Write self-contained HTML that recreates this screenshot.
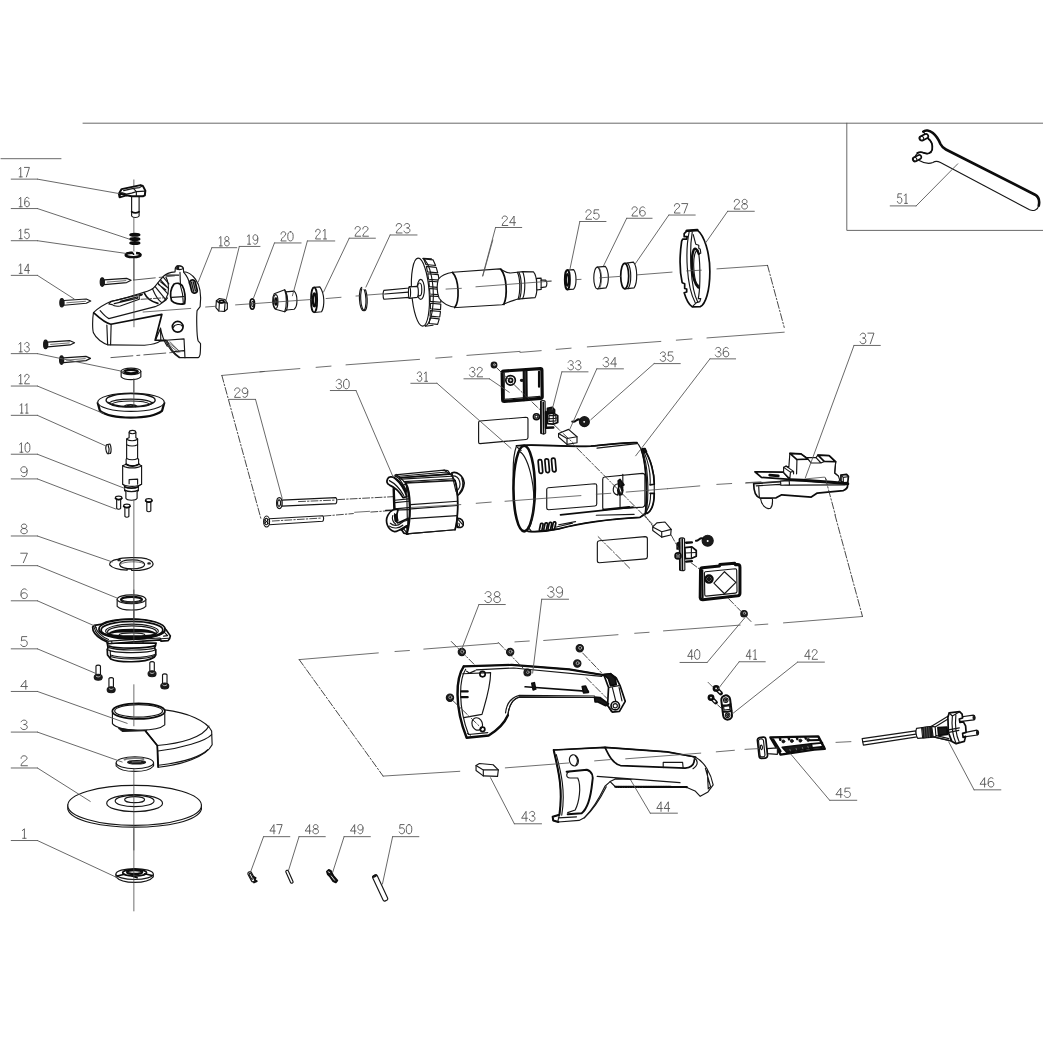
<!DOCTYPE html>
<html><head><meta charset="utf-8"><title>Angle grinder exploded view</title>
<style>
html,body{margin:0;padding:0;background:#fff;font-family:"Liberation Sans",sans-serif;}
svg{display:block}
svg *{vector-effect:non-scaling-stroke;fill:none;stroke-linecap:round;stroke-linejoin:round}
.o{stroke:#161616;stroke-width:1.15}
.b{stroke:#0c0c0c;stroke-width:1.7}
.t{stroke:#4a4a4a;stroke-width:.8}
.l{stroke:#585858;stroke-width:.9}
.d{stroke:#525252;stroke-width:.9}
.c{stroke:#3c3c3c;stroke-width:.85;stroke-dasharray:22 4 3 4}
.c2{stroke:#333;stroke-width:.9;stroke-dasharray:7 2 1.5 2}
.w{fill:#fff !important}
.k{fill:#1a1a1a !important}
.g{fill:#777 !important}
.g2{fill:#bbb !important}
</style></head><body>
<svg width="1043" height="1043" viewBox="0 0 1043 1043">
<rect class="w" x="0" y="0" width="1043" height="1043" stroke="none"/>
<g transform="translate(0,0) scale(1.000000)">
<path class="l" d="M83,123.2 L1043,123.2 M1,158.7 L61,158.7 M846.8,123.2 L846.8,230.4 L1043,230.4"/>

</g>
<g transform="translate(80,255) scale(0.134228)">
<!-- gearbox housing 18 -->
<path class="o w" d="M100,430 C92,480 92,555 100,580 C120,625 170,658 210,670 L480,672 C540,668 580,655 600,640 L640,640 C655,690 700,740 740,765 L880,765 C895,758 898,740 898,660 L880,640 C868,600 868,450 872,415 L895,385 C905,300 890,220 860,180 C830,140 800,125 772,125 L770,100 C765,75 718,72 710,98 L708,126 C670,130 640,140 620,160 C590,190 565,232 540,252 C500,280 430,288 400,300 C340,320 270,338 232,345 C180,368 130,400 100,430 Z"/>
<path class="b" d="M103,432 C150,475 200,512 230,516 L610,442 L560,635 L640,635"/>
<path class="o" d="M150,415 C180,450 200,468 215,474 L560,385 C600,372 640,340 655,290 C662,250 660,200 640,165"/>
<path class="o" d="M200,522 L206,668 M232,517 L228,668"/>
<path class="t" d="M470,425 L825,398"/>
<path class="o" d="M600,545 L562,635 M600,545 L602,640 M600,545 C610,600 625,640 650,680"/>
<path class="o" d="M640,635 L775,625 L782,765 M650,642 C670,692 700,732 742,762 M700,720 L775,712"/>
<path class="t" d="M640,650 L720,715 M655,648 L735,712 M670,646 L745,722 M650,670 L700,720"/>
<!-- boss on top -->
<path class="o" d="M712,100 C722,112 758,112 770,100 M722,88 C730,80 752,80 760,88"/>
<path class="o k" d="M722,80 L722,100 L735,104 L735,82 Z"/>
<!-- window -->
<path class="b w" d="M700,217 C720,205 748,210 762,228 C782,262 788,322 780,362 C742,372 700,360 682,340 C670,300 675,250 700,217 Z"/>
<path class="o" d="M682,316 L772,310 M745,215 C760,260 770,320 770,362"/>
<!-- slot right -->
<g transform="rotate(-14 845 235)"><rect class="b g2" x="824" y="185" width="42" height="100" rx="20"/><path class="o" d="M838,200 L838,270 M852,200 L852,270"/></g>
<path class="o" d="M772,128 C800,160 812,190 815,215 M745,130 L748,215"/>
<!-- circle -->
<circle class="b w" cx="728" cy="535" r="40"/>
<path class="o" d="M695,540 C705,515 750,510 762,530"/>
<!-- top slot -->
<path class="o" d="M215,365 C225,348 245,340 265,338 L440,296 L465,292 L460,300 L440,305 L442,330 L300,380 C270,385 250,380 240,370 Z"/>
<path class="o" d="M255,362 L430,322 L428,312 L300,345"/>
<path class="b" d="M480,285 C500,330 540,350 580,360"/>
<!-- ribs hatch -->
<path class="o" d="M540,252 C560,300 590,345 610,355 M560,235 L640,335 M580,210 L655,290 M600,185 L660,250 M620,165 L662,215 M585,220 L640,260 M600,200 L650,240"/>
<path class="o" d="M640,150 L735,150 M610,355 C625,350 640,340 652,320"/>
<path class="c2" d="M455,330 L640,318"/>
<!-- axis over housing -->
<path class="t" d="M402,0 L402,535"/>

</g>
<g transform="translate(0,140) scale(0.249281)">
<!-- axis -->
<path class="t" d="M537,160 L537,190 M537,310 L537,375 M537,415 L537,450 M537,470 L537,560 M537,960 L537,1010"/>
<!-- labels -->








<!-- 17 knob -->
<path class="o w" d="M528,222 L528,305 C533,313 553,313 558,305 L558,222 Z"/>
<path class="b" d="M528,288 C536,293 550,293 558,288"/>
<path class="b w" d="M477,216 L488,197 L564,181 L573,184 L583,203 L581,222 L573,226 L528,226 L507,222 L480,230 Z" style="stroke-width:2"/>
<path class="o" d="M496,203 L535,194 L560,191 L569,186 M535,194 L547,207 L581,205 M547,207 L547,226 M488,211 L507,217 L528,213 L547,207"/>
<path class="b" d="M480,228 L482,214 L507,222"/>
<!-- 16 spring -->
<g class="b" style="stroke-width:2.3"><ellipse cx="541" cy="380" rx="18" ry="3.500"/><ellipse cx="541" cy="397" rx="18" ry="3.500"/><ellipse cx="541" cy="413" rx="18" ry="3.500"/></g>
<!-- 15 clip -->
<ellipse class="b w" cx="534" cy="461" rx="30" ry="9" style="stroke-width:2.4"/>
<path class="w" stroke="none" d="M530,446 L548,446 L545,460 L535,460 Z"/>
<path class="b" d="M505,457 C515,452 525,451 531,452 L536,458 M549,453 C556,454 562,456 564,459"/>
<!-- screws 14 -->
<g id="scr">
<path class="o w" d="M418,561 L508,555 L526,563 L508,572 L418,580 Z"/>
<path class="t" d="M430,570 L505,564"/>
<ellipse class="o k" cx="410" cy="570" rx="8" ry="17"/>
</g>
<use href="#scr" x="-162" y="83"/>
<use href="#scr" x="-227" y="250"/>
<use href="#scr" x="-163" y="313"/>
<!-- 13 bearing -->
<path class="o w" d="M486,928 L486,950 C500,965 550,965 565,950 L565,928 Z"/>
<ellipse class="o w" cx="525.500" cy="928" rx="39.500" ry="13"/>
<ellipse class="b" cx="525.500" cy="929" rx="27" ry="7" style="stroke-width:2.4"/>
<!-- nut 19 -->
<path class="o w" d="M868,645 L880,636 L903,640 L912,655 L912,678 L900,688 L878,686 L866,672 Z"/>
<path class="o" d="M868,645 L880,655 L903,652 L912,655 M880,655 L878,686 M903,652 L900,688"/>
<ellipse class="b" cx="889" cy="648" rx="10" ry="5"/>
<!-- washer 20 -->
<ellipse class="b" cx="1012" cy="658" rx="9" ry="21"/>
<ellipse class="o" cx="1014" cy="658" rx="4" ry="11"/>
<!-- centerlines -->
<path class="c" d="M535,562 L700,545 M445,873 L720,850"/>
<path class="t" d="M825,670 L865,667 M0,0"/>

</g>
<g transform="translate(260,140) scale(0.249281)">








<!-- 21 cone bushing -->
<path class="o w" d="M57,617 L99,601 L104,609 L137,606 C152,621 152,667 137,679 L107,682 L99,689 L62,679 C48,665 48,632 57,617 Z"/>
<path class="o" d="M104,609 C113,630 113,665 107,682 M99,601 C108,625 108,668 99,689"/>
<ellipse class="o" cx="63" cy="648" rx="9" ry="28"/>
<ellipse class="b" cx="64" cy="648" rx="4" ry="14"/>
<!-- 22 bearing -->
<path class="o w" d="M217,591 L240,589 C260,616 260,667 247,689 L219,692 Z"/>
<ellipse class="b w" cx="217" cy="641.500" rx="12.500" ry="50"/>
<ellipse class="b" cx="218" cy="641.500" rx="6" ry="26" style="stroke-width:2.2"/>
<!-- 23 circlip -->
<ellipse class="o" cx="412" cy="638" rx="13" ry="47" transform="rotate(-3 412 638)"/>
<ellipse class="o" cx="417" cy="638" rx="13" ry="47" transform="rotate(-3 417 638)"/>
<rect class="w" x="410" y="585" width="22" height="14" stroke="none"/>
<!-- centerline -->
<path class="t" d="M-98,661.500 L204,640 M265,636 L325,631 M385,626 L400,625 M430,622 L495,617"/>
<!-- long dashed frame line (upper plane bottom edge) -->
<path class="t" d="M0,930 L160,917 M225,912 L285,907 M345,902 L640,880 M705,875 L770,870 M830,864 L1043,848"/>

</g>
<g transform="translate(400,240) scale(0.153404)">
<!-- shaft -->
<path class="o w" d="M-105,328 L60,313 L60,306 L110,302 L110,375 L60,380 L60,374 L-105,386 C-112,375 -112,340 -105,328 Z"/>
<path class="o" d="M60,313 L60,374 M-100,352 L55,340"/>
<!-- fan blades -->
<path class="w" stroke="none" d="M160,120 L212,120 C235,160 255,260 262,360 C266,440 258,510 240,555 L190,562 Z"/>
<path class="o" d="M150,120 L205,122 M165,562 L215,556"/>
<path class="o w" d="M155,124 L216,130 L232,166 L169,160 Z M172,172 L236,178 L246,214 L179,208 Z M181,220 L249,226 L255,262 L186,256 Z M188,268 L257,274 L261,310 L191,304 Z M192,316 L263,322 L265,358 L195,352 Z M196,364 L266,370 L266,406 L197,400 Z M198,412 L266,418 L264,454 L198,448 Z M198,460 L264,466 L259,502 L196,496 Z M195,508 L256,514 L245,550 L190,544 Z"/>
<!-- fan disc -->
<ellipse class="o w" cx="133" cy="340" rx="57" ry="222" transform="rotate(-4 133 340)"/>
<path class="o" d="M150,121 C200,150 225,300 215,420 C208,500 190,550 165,560"/>
<ellipse class="o" cx="135" cy="322" rx="24" ry="65"/>
<ellipse class="o" cx="128" cy="322" rx="14" ry="42"/>
<path class="o w" d="M60,313 L60,306 L112,302 C122,310 122,365 112,374 L60,380 Z"/>
<ellipse class="o w" cx="62" cy="343" rx="7" ry="36"/>
<!-- body -->
<path class="o w" d="M250,255 C270,230 310,215 345,210 L650,188 C670,195 690,215 720,215 L765,210 L800,206 L870,208 C895,235 900,340 880,376 L800,382 L770,385 C740,395 715,400 690,412 L665,422 L370,440 C320,435 275,410 255,380 C240,340 240,290 250,255 Z"/>
<path class="b" d="M342,211 C388,260 388,400 357,440"/>
<path class="b" d="M657,190 C697,240 702,360 677,420"/>
<path class="o" d="M765,210 C785,250 785,340 770,385 M800,206 C818,250 818,340 800,382 M775,210 C795,250 795,340 780,384"/>
<!-- end shaft -->
<path class="o w" d="M890,250 L920,249 L920,262 L950,262 C960,270 960,298 950,306 L920,310 L920,322 L892,326 Z"/>
<path class="o" d="M920,262 L920,310"/>
<path class="t" d="M300,320 L400,315 M495,305 L985,268 M605,0 L540,235"/>

</g>
<g transform="translate(520,140) scale(0.249281)">








<!-- 25 -->
<path class="o w" d="M190,522 L215,520 C228,535 228,585 215,598 L190,600 Z"/>
<ellipse class="b w" cx="190" cy="561" rx="10" ry="39" style="stroke-width:2"/>
<ellipse class="b" cx="190" cy="561" rx="5" ry="24"/>
<!-- 26 -->
<path class="o w" d="M310,510 L342,507 C358,525 358,575 345,593 L312,597 Z"/>
<ellipse class="o w" cx="310" cy="553.500" rx="14" ry="43.500"/>
<path class="t" d="M318,512 C330,530 330,575 320,595"/>
<!-- 27 -->
<path class="o w" d="M420,495 L455,490 C472,510 472,570 458,593 L422,597 Z"/>
<ellipse class="b w" cx="420" cy="546" rx="16" ry="51"/>
<path class="o" d="M432,494 C448,515 448,575 434,596"/>
<!-- centerline -->
<path class="t" d="M100,567 L125,566 M225,560 L245,559 M320,553 L403,547 M470,541 L610,530 M790,517 L993,503"/>
<path class="c2" d="M993,503 L1060,752"/>
<path class="t" d="M0,852 L85,845 M145,840 L205,835 M270,830 L565,808 M627,803 L690,798 M750,794 L1060,771"/>

</g>
<g transform="translate(660,215) scale(0.100719)">
<path class="b w" d="M265,160 L370,150 C440,200 495,380 495,560 C495,760 450,890 400,910 L320,912 C285,890 260,840 240,772 L265,765 L265,735 L245,730 L245,682 L220,672 C195,560 195,400 215,260 L225,240 L265,240 L270,215 L240,215 L240,185 Z"/>
<path d="M265,156 L370,149" stroke="#0c0c0c" stroke-width="2.6"/>
<path class="o" d="M290,165 C250,350 260,700 350,872"/>
<path class="o" d="M320,170 C290,350 300,720 375,865"/>
<path class="o" d="M330,195 L355,290 L385,300 L385,330 L400,340 L405,380 L385,385 C400,500 400,700 385,800 L380,830 L405,830 L395,860 L360,872 L320,910"/>
<path class="b" d="M385,385 C372,345 350,320 335,345 C305,420 305,640 380,720" style="stroke-width:2.4"/>
<path class="o" d="M380,350 C350,340 330,420 335,520 C340,620 360,690 385,700"/>
<path class="t" d="M265,555 L410,548"/>

</g>
<g transform="translate(900,120) scale(0.137105)">
<path class="o w" d="M170,85 C185,70 215,75 240,95 C270,120 285,150 295,175 C305,195 315,205 335,215 L985,545 C1010,560 1020,590 1012,625 C1005,655 975,668 945,655 L295,310 C275,300 255,300 240,310 C215,320 175,315 140,295 L112,262 C125,238 150,232 175,240 C200,250 228,245 235,215 C240,180 225,150 205,135 Z"/>
<path d="M170,85 C185,70 215,75 240,95 C270,120 285,150 295,175 C305,195 315,205 335,215 L985,545 C1010,560 1020,590 1012,625" stroke="#0c0c0c" stroke-width="2.6"/>
<path class="b" d="M205,135 C225,150 240,180 235,215 C228,245 200,250 175,240 C160,232 140,232 125,240"/>
<g transform="rotate(-27 172 127)"><rect class="b w" x="140" y="110" width="68" height="34" rx="17"/><ellipse class="o" cx="157" cy="127" rx="14" ry="15"/></g>
<g transform="rotate(-27 122 280)"><rect class="b w" x="92" y="264" width="66" height="32" rx="16"/><ellipse class="o" cx="108" cy="280" rx="13" ry="14"/></g>

</g>
<g transform="translate(780,100) scale(0.252157)">


</g>
<g transform="translate(0,360) scale(0.249281)">







<!-- 12 gear dish -->
<path class="b w" d="M392,172 L401,204 C447,240 603,240 650,204 L659,172 Z" style="stroke-width:2.2"/>
<ellipse class="o w" cx="525.500" cy="169.500" rx="133.500" ry="36.500"/>
<ellipse class="o" cx="524" cy="161" rx="98.500" ry="26" style="stroke-width:1.4"/>
<path class="o" d="M438,172 C460,152 590,152 610,172 M446,178 C470,160 580,160 602,178"/>
<path class="o" d="M436,170 C450,196 600,196 612,170"/>
<path class="o" d="M498,186 C505,176 543,176 550,186 M505,187 C512,181 538,181 544,187"/>
<!-- 11 key -->
<path class="o w" d="M427,340 L441,337 C447,348 447,366 443,375 L431,376 C424,364 423,350 427,340 Z"/><path class="o" d="M433,339 C438,350 438,366 436,376"/>
<!-- 10 spindle -->
<path class="o w" d="M518,290 C520,280 543,280 545,290 L545,312 L552,316 L552,395 L556,398 L556,418 L568,424 L568,498 L555,505 L555,525 L550,528 L550,555 C545,565 510,565 505,555 L505,528 L500,525 L500,505 L492,498 L492,424 L506,418 L506,398 L508,395 L508,316 L518,312 Z"/>
<path class="o" d="M508,318 C520,326 540,326 552,318 M508,340 C520,346 540,346 552,340 M508,395 C520,402 540,402 552,395 M506,418 C520,426 540,426 556,418 M492,424 C510,436 550,436 568,424 M492,498 C510,510 550,510 568,498 M500,522 C515,530 540,530 555,522 M518,292 C525,297 538,297 545,292"/>
<path class="b" d="M506,418 C520,428 545,428 558,418 M500,508 C515,516 540,516 555,508"/>
<path class="o" d="M518,480 L552,478 L552,498 M518,480 L518,496"/>
<!-- 9 screws -->
<g id="s9"><path class="o w" d="M468,558 L468,595 C472,600 480,600 484,595 L484,558 Z"/><ellipse class="o w" cx="476" cy="553" rx="13" ry="7"/><path class="b" d="M463,555 C468,562 484,562 489,555"/></g>
<use href="#s9" x="33" y="32"/><use href="#s9" x="121" y="10"/>
<!-- 8 plate -->
<path class="o w" d="M440,822 C438,812 450,803 470,800 C490,792 560,790 590,798 C610,804 618,815 612,825 C600,840 560,846 528,844 L526,838 L510,838 L510,843 C480,842 450,835 440,822 Z"/>
<path class="o" d="M480,822 C480,808 505,802 532,802 C560,802 580,810 580,820 C580,830 560,838 530,838 C505,838 482,832 480,822 Z"/>
<path class="t" d="M486,818 C495,808 560,806 575,816"/>
<ellipse class="o" cx="478" cy="803" rx="5" ry="2.500"/><ellipse class="o" cx="598" cy="816" rx="5" ry="2.500"/>
<!-- 7 bearing -->
<path class="o w" d="M470,960 L470,988 C490,1008 565,1008 585,988 L585,960 Z"/>
<ellipse class="o w" cx="527.500" cy="960" rx="57.500" ry="18"/>
<ellipse class="b" cx="527.500" cy="961" rx="42" ry="11" style="stroke-width:2.2"/>
<path class="t" d="M492,966 C510,975 550,975 565,966"/>
<!-- axis -->
<path class="t" d="M537,75 L537,186 M537,562 L537,1043"/>
<!-- frame -->
<path class="t" d="M890,62 L1060,46"/>
<path class="c2" d="M890,62 L1048,641"/>

</g>
<g transform="translate(85,610) scale(0.095877)">
<!-- lower body -->
<path class="b w" d="M232,345 L240,392 L232,412 L235,470 L268,510 C350,550 620,555 722,492 L738,470 L738,415 L725,398 L742,345 Z"/>
<path class="o" d="M240,390 C330,425 640,425 728,396 M232,412 C300,455 660,455 738,415 M262,420 L268,508 M268,470 C350,505 640,505 738,462 M268,485 C350,520 640,520 730,478"/>
<path class="b" d="M250,375 C330,405 640,405 735,372"/>
<!-- flange plate -->
<path class="b w" d="M80,178 L95,160 L165,150 C300,80 700,70 830,190 L852,215 L890,270 L882,300 L865,320 L795,325 L785,312 L240,352 L225,330 C150,300 100,250 85,215 Z"/>
<path class="o" d="M95,180 C105,240 170,300 240,325 L780,292 L790,300 L875,295 M110,175 C120,225 180,285 245,308 M240,325 L240,352 M605,325 L605,340 M280,330 L280,350 M790,300 L795,325"/>
<path class="o" d="M830,235 L862,268 L820,272 M100,162 L118,185"/>
<!-- rings -->
<ellipse class="b w" cx="490" cy="200" rx="345" ry="105"/>
<ellipse class="b" cx="490" cy="208" rx="322" ry="90"/>
<ellipse class="o" cx="490" cy="220" rx="275" ry="72"/>
<ellipse class="o" cx="490" cy="228" rx="255" ry="62"/>
<path d="M255,245 C300,190 680,190 730,245 C690,215 300,215 255,245 Z" class="b k"/>
<path d="M250,250 C300,300 680,300 735,250 C690,280 300,282 250,250 Z" class="b k"/>
<ellipse class="o" cx="490" cy="262" rx="135" ry="24"/>
<path class="b" d="M150,215 C200,300 750,320 830,225"/>
<path class="t" d="M510,0 L510,345"/>

</g>
<g transform="translate(0,590) scale(0.249281)">





<!-- 5 bolts -->
<g id="b5"><path class="o w" d="M385,305 C388,300 400,300 403,305 L403,345 L385,345 Z"/><ellipse class="o k" cx="394" cy="350" rx="16" ry="12"/><path d="M386,346 C390,350 398,350 402,346" stroke="#ddd" stroke-width=".8"/></g>
<use href="#b5" x="52" y="50"/><use href="#b5" x="216" y="-14"/><use href="#b5" x="267" y="35"/>
<!-- 4 guard -->
<path class="o w" d="M661,481 C751,491 831,526 849,566 L851,621 C826,671 726,701 636,711 L631,624 L584,566 Z"/>
<path class="o" d="M631,624 C726,616 816,591 838,546 M634,646 C726,636 826,606 849,580 M636,703 C726,693 800,672 835,640"/>
<path class="b" d="M584,566 L631,624 L634,711"/>
<path class="o k" d="M476,556 L491,567 L582,564 L575,558 Z"/>
<path class="o w" d="M451,490 L451,536 C476,568 626,572 661,541 L661,489 Z"/>
<ellipse class="b w" cx="556" cy="486" rx="105.500" ry="31"/>
<ellipse class="o" cx="556" cy="485" rx="96" ry="25"/>
<!-- 3 flange -->
<path class="o w" d="M466,694 L466,706 C490,735 592,735 616,706 L616,694 Z"/>
<ellipse class="o w" cx="541" cy="693" rx="75" ry="24"/>
<path d="M500,680 C515,672 560,672 575,678" stroke="#777" stroke-width="2"/>
<ellipse class="o k" cx="548" cy="691" rx="36" ry="7"/>
<path d="M530,690 L565,689" stroke="#999" stroke-width=".8"/>
<!-- 2 disc -->
<path class="o w" d="M272,862 L272,880 C300,975 780,975 808,880 L808,862 Z"/>
<ellipse class="o w" cx="540" cy="864" rx="268" ry="80"/>
<ellipse class="o" cx="540" cy="855" rx="112" ry="34"/>
<ellipse class="o" cx="540" cy="846" rx="78" ry="23"/>
<ellipse class="o" cx="540" cy="841" rx="40" ry="12"/>
<!-- axis -->
<path class="t" d="M537,0 L537,125 M537,380 L537,545 M537,720 L537,1043"/>

</g>
<g transform="translate(230,815) scale(0.191755)">




<!-- 47 -->
<g transform="rotate(-28 112 322)"><rect class="o w" x="102" y="294" width="20" height="56" rx="9"/><rect class="o" x="107" y="302" width="10" height="34" rx="5"/></g>
<path class="b" d="M122,322 L134,328 L128,338 L140,345 L125,352"/>
<!-- 48 -->
<g transform="rotate(-24 310 322)"><rect class="o w" x="303" y="286" width="14" height="72" rx="6"/></g>
<!-- 49 -->
<path class="b k" d="M505,295 L515,286 L527,292 L532,305 L540,318 L560,342 L552,352 L538,345 L522,322 L510,310 Z"/>
<path d="M512,296 L520,300 M528,318 L545,340" stroke="#fff" stroke-width=".8"/>
<!-- 50 -->
<g transform="rotate(-25 783 380)"><rect class="o w" x="770" y="308" width="26" height="145" rx="9"/><ellipse class="o k" cx="783" cy="312" rx="12" ry="4"/></g>

</g>
<g transform="translate(0,800) scale(0.249281)">
<path class="o w" d="M465,298 L465,308 C490,338 590,338 615,308 L615,298 Z"/>
<ellipse class="o w" cx="540" cy="297" rx="75" ry="22"/>
<ellipse class="b" cx="540" cy="292" rx="48" ry="13"/>
<ellipse class="b" cx="540" cy="289" rx="30" ry="8" style="stroke-width:2.4"/>
<path class="b" d="M470,305 L500,298 M580,296 L610,303 M530,305 L550,312"/>
<path class="t" d="M537,115 L537,445"/>

</g>
<g transform="translate(215,360) scale(0.249281)">
<!-- screws 29 -->
<path class="o w" d="M268,562 L485,552 C490,556 490,572 485,576 L268,586 Z"/>
<path class="c2" d="M335,568 L480,562"/>
<ellipse class="o w" cx="258" cy="574" rx="11" ry="22"/>
<ellipse class="o" cx="257" cy="574" rx="6" ry="13"/>
<path class="o w" d="M218,637 L432,625 C437,629 437,643 432,647 L218,661 Z"/>
<path class="c2" d="M230,646 L428,634"/>
<ellipse class="o w" cx="207" cy="648" rx="12" ry="22"/>
<ellipse class="o" cx="206" cy="648" rx="6" ry="13"/>
<path class="b" d="M198,640 L214,656 M214,640 L198,656" style="stroke-width:1"/>
<path class="c2" d="M492,560 L720,548 M437,626 L555,616 M625,610 L720,603"/>
<path class="t" d="M560,611 L620,607"/>

</g>
<g transform="translate(375,460) scale(0.095877)">
<!-- right windings -->
<path class="b w" d="M800,135 C850,115 920,160 930,240 C925,300 890,350 860,370 L845,330 Z"/>
<path class="o" d="M810,165 C840,165 872,185 882,222 C895,262 880,300 850,330 M905,190 C925,240 915,300 880,345"/>
<path class="b w" d="M850,610 C900,600 930,640 920,680 C910,705 880,708 858,700 Z"/>
<path class="o" d="M868,622 L912,672 M875,660 C885,680 880,695 870,698"/>
<!-- left inner -->
<path class="o w" d="M195,290 L330,250 L340,770 L215,700 Z"/>
<path class="b" d="M195,300 L202,512" style="stroke-width:2.4"/>
<path class="o" d="M205,420 L350,405 M210,445 L352,430 M205,510 L352,497 M110,525 L350,518"/>
<!-- top-left winding -->
<path class="b w" d="M130,200 C140,170 180,170 205,188 C245,222 305,300 332,382 L292,392 C262,342 202,282 152,262 C125,248 120,222 130,200 Z"/>
<path class="o" d="M150,215 C200,240 260,300 300,370 M200,165 L255,192 L335,335 M215,160 C260,200 300,260 330,320"/>
<path class="b" d="M205,188 C240,200 290,260 320,330"/>
<!-- bottom-left winding -->
<path class="b w" d="M135,575 C160,520 215,505 240,520 L230,560 C210,600 215,640 235,655 C270,650 310,620 345,610 L345,680 C310,690 260,740 205,748 C130,725 100,640 135,575 Z"/>
<path class="o" d="M160,660 C190,690 240,690 270,660 C290,640 320,630 340,628 M150,690 C190,720 250,715 290,680 M185,580 C175,610 185,650 215,668 M205,560 L215,640 M225,570 L240,630"/>
<path class="b k" d="M205,575 L228,570 L232,630 L212,635 Z"/>
<path class="b w" d="M280,730 L330,690 L345,770 L300,762 Z"/>
<path class="o" d="M300,720 L325,750"/>
<!-- top surface -->
<path class="o w" d="M210,155 L720,105 L760,110 L835,215 L320,242 L260,182 Z"/>
<path class="o" d="M262,185 L782,145 M250,170 L750,125 M272,200 L800,170 M300,226 L822,196 M222,150 L262,185 M720,105 L782,145"/>
<path class="b" d="M262,185 L782,147 M320,242 L835,215"/>
<!-- main face -->
<path class="o w" d="M320,242 L835,215 C872,330 872,600 835,727 L332,770 C378,600 372,330 320,242 Z"/>
<path class="b" d="M320,242 C372,330 378,600 332,770" style="stroke-width:2.2"/>
<path class="b" d="M835,215 C872,330 872,600 835,727"/>
<path class="o" d="M372,466 L862,430 M376,510 L862,475 M374,612 L860,580 M332,770 L835,727"/>
<path class="t" d="M380,495 L895,465"/>
<path class="o" d="M800,140 L845,330 M860,370 L850,332"/>

</g>
<g transform="translate(505,435) scale(0.153404)">
<!-- right end ring -->
<path class="o w" d="M905,95 C955,160 975,256 973,322 L973,380 C973,435 960,490 928,511 L890,500 Z"/>
<path class="b" d="M911,98 C952,160 973,256 973,321 L946,325 M946,380 L973,380 C973,435 959,490 928,511"/>
<path class="o" d="M908,115 C939,187 949,270 946,322 M949,386 C949,435 939,476 918,500"/>
<path class="b k" d="M894,90 L912,88 L922,108 L905,112 Z"/>
<!-- body -->
<path class="o w" d="M75,70 C200,55 400,82 560,72 C700,60 800,45 860,50 C872,62 880,78 887,91 C918,174 932,352 915,510 L878,538 C700,547 500,572 350,612 C280,627 200,632 150,628 C60,560 30,200 75,70 Z"/>
<path class="b" d="M887,91 C918,174 932,352 915,510"/>
<path class="o" d="M897,105 C928,187 942,352 922,507"/>
<path class="o" d="M600,86 L860,56"/>
<path class="b" d="M75,70 C200,55 400,82 560,72 C700,60 800,45 860,50"/>
<path class="b" d="M150,628 C200,632 280,627 350,612 C500,572 700,547 880,537 L925,508"/>
<!-- opening -->
<ellipse class="b w" cx="125" cy="349" rx="70" ry="279" style="stroke-width:2.6"/>
<path class="o" d="M90,105 C150,130 200,330 185,480 C178,560 165,600 150,615"/>
<path class="o" d="M80,80 L105,100 M150,600 L170,625"/>
<!-- vents -->
<g class="b">
<rect x="219" y="160" width="24" height="90" rx="12" transform="rotate(-5 231 205)"/>
<rect x="263" y="155" width="24" height="90" rx="12" transform="rotate(-5 275 200)"/>
<rect x="306" y="150" width="24" height="90" rx="12" transform="rotate(-5 318 195)"/>
<rect x="228" y="575" width="17" height="52" rx="8" transform="rotate(12 236 600)"/>
<rect x="257" y="572" width="17" height="52" rx="8" transform="rotate(12 265 597)"/>
<rect x="284" y="569" width="17" height="52" rx="8" transform="rotate(12 292 594)"/>
<rect x="311" y="566" width="17" height="50" rx="8" transform="rotate(12 319 590)"/>
</g>
<!-- label rect -->
<path class="o" d="M282,344 L586,318 Q598,318 598,330 L598,450 Q598,462 586,463 L284,487 Q272,487 272,475 L272,356 Q272,345 282,344 Z"/>
<!-- brush window -->
<path class="o" d="M650,274 L896,250 Q912,250 912,266 L912,452 Q912,468 898,470 L650,487 Q637,487 637,475 L637,288 Q637,275 650,274 Z"/>
<path class="o" d="M768,256 L768,345 M750,390 L750,478"/>
<path class="b" d="M640,487 L810,468"/>
<path class="o w" d="M742,318 C700,320 690,380 735,392 Z"/>
<path class="b k" d="M738,300 L750,290 L765,312 L775,325 L760,330 L768,360 L762,388 L745,390 L735,360 L742,340 Z"/>
<path d="M748,345 L756,372" stroke="#fff" stroke-width="1"/>
<!-- body lines -->
<path class="b" d="M362,521 L835,470"/>
<path class="o" d="M595,523 L842,517 M350,585 L460,565 M335,600 L440,575"/>
<!-- center lines -->
<path class="t" d="M0,432 L495,395 M595,386 L690,380 M790,372 L1060,350"/>
<path class="c2" d="M412,28 L1005,625"/>

</g>
<g transform="translate(490,355) scale(0.105465)">
<!-- label rect 31 -->
<path class="o" d="M-95,626 L340,590 Q360,590 360,608 L360,782 Q360,800 342,801 L-95,840 Q-108,840 -108,828 L-108,640 Q-108,627 -95,626 Z"/>
<!-- nut -->
<circle class="o k" cx="38" cy="95" r="27"/>
<circle cx="42" cy="92" r="9" stroke="#aaa" stroke-width="1"/>
<!-- cover 32 -->
<path d="M130,152 L478,130 Q492,130 492,145 L495,395 Q495,410 480,412 L135,440 Q120,440 120,425 L115,168 Q115,153 130,152 Z" stroke="#0c0c0c" stroke-width="3.2" class="w"/>
<path class="b" d="M320,148 L322,428 M345,146 L348,424 M465,160 L465,300" style="stroke-width:2.2"/>
<path class="o" d="M332,150 L335,425 M135,170 L135,420 L475,392"/>
<circle class="b" cx="195" cy="240" r="45"/>
<circle class="b" cx="195" cy="240" r="19"/>
<ellipse class="o k" cx="302" cy="240" rx="14" ry="10"/>
<!-- holder 33 -->
<path class="o w" d="M482,440 C490,428 515,428 522,440 L528,740 C520,752 492,752 484,740 Z"/>
<path class="b" d="M482,440 L484,740 M505,450 L508,745"/>
<circle class="b w" cx="440" cy="585" r="28"/>
<circle class="o" cx="440" cy="585" r="14"/>
<path class="b w" d="M545,560 L600,550 L642,575 L642,640 L600,655 L545,650 Z"/>
<path class="o" d="M545,605 L640,600 M600,555 L600,650 M560,575 L625,572 L625,625 L560,630 Z"/>
<path class="b k" d="M545,505 L590,495 L612,520 L612,545 L545,555 Z"/>
<path class="b" d="M540,690 L600,688 M530,540 L530,690" style="stroke-width:2.4"/>
<!-- brush 34 -->
<path class="o w" d="M650,745 L745,705 L825,775 L825,832 L730,847 L650,777 Z"/>
<path class="o" d="M650,745 L730,792 L825,775 M730,792 L730,847"/>
<!-- spring 35 -->
<circle class="o k" cx="895" cy="632" r="47"/>

<circle cx="893" cy="634" r="9" class="w" stroke="none"/>
<path class="b" d="M850,612 C822,600 812,645 780,632" style="stroke-width:2"/>
<!-- diagonal -->
<path class="c2" d="M62,120 L470,515 M610,665 L790,835"/>

</g>
<g transform="translate(590,500) scale(0.162991)">
<!-- lower label rect -->
<path class="o" d="M57,250 L338,225 Q352,225 352,238 L352,348 Q352,360 340,361 L57,385 Q45,385 45,373 L45,262 Q45,251 57,250 Z"/>
<path class="c2" d="M50,225 L245,420"/>
<!-- brush -->
<path class="o w" d="M385,165 L410,140 L460,135 L498,180 L495,215 L440,228 L385,187 Z"/>
<path class="o" d="M385,165 L440,195 L498,180 M440,195 L440,228"/>
<!-- holder -->
<path class="o w" d="M548,238 C555,230 575,230 580,238 L582,428 C575,436 555,436 550,428 Z"/>
<path class="b" d="M550,240 L552,428 M566,240 L567,430"/>
<circle class="b w" cx="540" cy="343" r="18"/>
<circle class="o" cx="540" cy="343" r="8"/>
<path class="b w" d="M582,292 L625,288 L652,310 L652,345 L625,358 L585,360 Z"/>
<path class="o" d="M585,325 L650,322 M622,292 L622,355"/>
<path class="b" d="M590,262 L625,260 M590,378 L625,375" style="stroke-width:2.4"/>
<path class="b k" d="M535,265 L548,260 L548,300 L535,300 Z"/>
<!-- spring -->
<circle class="o k" cx="722" cy="250" r="34"/>

<circle cx="722" cy="252" r="6" class="w" stroke="none"/>
<path class="b" d="M692,236 C672,228 668,252 650,250" style="stroke-width:2"/>
<!-- cover 32' -->
<path d="M690,416 L795,405 L797,395 L888,388 L892,397 L905,396 Q920,396 920,412 L920,572 Q920,586 906,588 L692,612 Q678,612 676,598 L678,430 Q678,417 690,416 Z" stroke="#0c0c0c" stroke-width="3" class="w"/>
<path class="o" d="M708,440 L892,422 Q900,422 900,432 L902,560 Q902,570 892,571 L712,590 Q704,590 704,580 L702,450 Q702,441 708,440 Z"/>
<path class="o" d="M825,440 L895,505 L825,575 L760,510 Z"/>
<circle class="b" cx="730" cy="485" r="22" style="stroke-width:2.4"/>
<circle class="o k" cx="730" cy="485" r="10"/>
<path class="b" d="M690,430 L692,600"/>
<!-- nut 40 -->
<circle class="o k" cx="945" cy="698" r="20"/>
<circle cx="948" cy="695" r="7" stroke="#aaa" stroke-width="1"/>
<!-- diagonal -->
<path class="c2" d="M330,85 L385,160 M498,215 L545,300 M620,385 L680,430 M850,605 L990,748"/>

</g>
<g transform="translate(735,425) scale(0.124640)">
<!-- flat plate -->
<path class="b w" d="M160,375 L392,378 L442,437 L212,420 Z"/>
<path d="M278,402 L348,408" stroke="#0c0c0c" stroke-width="2.6"/>
<!-- main block -->
<path class="o w" d="M440,228 L530,232 L575,262 L650,262 L665,242 L755,245 L808,295 L800,385 L830,410 L840,440 L830,462 L440,440 L390,382 L390,340 L410,330 L432,340 Z"/>
<path class="b" d="M440,228 L530,232 L585,274 L497,277 Z M665,242 L755,245 L808,295 L716,292 Z"/>
<path class="o" d="M497,277 L494,392 M585,274 L612,305 L690,305 L716,292 M575,262 L600,290 M650,262 L690,305 M808,295 L800,385 L830,410"/>
<path class="o" d="M410,330 L470,372 L470,392 M390,340 L445,378 L440,430 M390,382 L440,430 M445,378 L470,372"/>
<!-- right tab -->
<path class="b w" d="M850,402 L895,396 L910,412 L905,460 L870,466 L850,448 Z"/>
<path class="o" d="M850,402 L868,420 L905,415 M868,420 L870,466"/>
<!-- base -->
<path class="b w" d="M150,470 L360,455 L440,440 C600,448 760,460 900,470 C908,490 900,512 870,526 L660,546 L612,578 L375,560 L330,584 L200,586 C165,575 150,530 150,470 Z"/>
<path d="M440,440 C600,445 760,458 905,472" stroke="#0c0c0c" stroke-width="3"/>
<path class="o" d="M170,488 L360,476 L440,482 L885,480 M190,490 L195,580"/>
<path class="o w" d="M365,450 L435,447 L437,480 L368,483 Z"/>
<path class="o w" d="M205,590 C210,640 250,682 285,668 C302,650 302,612 300,590 Z"/>
<path class="t" d="M85,466 L355,455 M570,432 L720,418 L735,440"/>
<path class="c2" d="M725,425 L805,722"/>

</g>
<g transform="translate(0,0) scale(1.000000)">
<!-- centerline housing->switch -->
<path class="t" d="M667.600,488.700 L699.800,485.900 M716.800,484.400 L731.700,483.500 M746,482.700 L761,481.800"/>
<path class="t" d="M476.200,503.300 L491.200,502.100"/>
<!-- dash-dot down from switch -->
<path class="c2" d="M835,515 L862.500,616.500"/>
<!-- bottom long dash line of middle plane -->
<path class="t" d="M862.500,616.500 L783.500,622.900 M767.800,624.100 L755,625 M740.200,625.100 L663.500,630.900 M649.100,632.300 L634.700,633.300 M618,634.700 L543.700,640.500 M529.300,641 L514.900,641.900 M498.100,643.300 L423.800,649.100 M409.400,650.500 L395,651.500 M378.300,652.900 L299.200,659.600"/>
<path class="c2" d="M299.200,659.600 L383.100,776.100"/>
<path class="t" d="M383.100,776.100 L459.800,771.300"/>

</g>
<g transform="translate(600,300) scale(0.424736)">


</g>
<g transform="translate(435,630) scale(0.191755)">
<!-- body -->
<path class="o w" d="M150,190 L400,182 L700,205 L885,235 L940,245 L990,370 L960,422 L920,426 L895,385 L835,352 L440,350 C400,360 385,400 380,445 C365,480 330,520 280,550 L165,562 C100,400 110,250 150,190 Z"/>
<path d="M150,190 L400,182 L700,205 L882,236" stroke="#0c0c0c" stroke-width="2.2"/>
<path d="M150,190 C108,250 100,400 165,562 L280,550 C330,520 365,480 380,445" stroke="#0c0c0c" stroke-width="2.4"/>
<path class="o" d="M215,208 L410,198 L870,242 M160,205 C125,260 120,400 175,545 L275,535"/>
<path class="o" d="M380,445 C385,400 400,360 440,350 L832,352 M368,432 C373,386 395,352 440,341 L832,344"/>
<path class="o" d="M145,228 L290,222 C290,300 262,380 245,440 L150,457"/>
<ellipse class="o" cx="220" cy="490" rx="27" ry="33" transform="rotate(-20 220 490)"/>
<circle class="b" cx="248" cy="518" r="12"/>
<circle class="b" cx="248" cy="230" r="14"/>
<circle class="o k" cx="482" cy="222" r="18"/><circle cx="484" cy="220" r="7" stroke="#aaa" stroke-width=".8"/>
<path d="M138,320 L170,320 M138,350 L170,350" stroke="#0c0c0c" stroke-width="2.4"/>
<path class="o" d="M165,215 L180,225 L210,212 M170,540 L185,548"/>
<!-- rod -->
<path class="b" d="M470,296 L800,320"/>
<path class="b k" d="M505,278 L518,275 L525,308 L512,312 Z M768,295 L785,292 L800,325 L775,328 Z"/>
<!-- right connector -->
<path class="b w" d="M880,232 L915,228 L945,250 L965,290 L992,372 L962,424 L925,428 L900,392 L905,300 Z"/>
<path class="b k" d="M880,232 L915,228 L940,252 L945,285 L915,290 L905,255 Z"/>
<path class="o" d="M925,300 L945,380 M960,300 L975,370 M905,300 L960,290"/>
<circle class="b w" cx="940" cy="395" r="22"/><circle class="o" cx="940" cy="395" r="11"/>
<path class="b k" d="M832,350 L860,352 L905,385 L890,395 L850,375 L835,375 Z"/>
<!-- nuts 38 -->
<g id="n38"><circle class="o k" cx="140" cy="115" r="19"/><circle cx="142" cy="113" r="8" stroke="#aaa" stroke-width=".9"/></g>
<use href="#n38" x="252" y="0"/><use href="#n38" x="615" y="-20"/><use href="#n38" x="602" y="60"/><use href="#n38" x="-62" y="238"/>
<!-- dash dot -->
<path class="c2" d="M85,60 L205,180 M330,65 L480,220 M770,120 L870,225 M790,250 L900,360 M95,370 L230,500"/>

</g>
<g transform="translate(280,570) scale(0.479386)">



</g>
<g transform="translate(460,735) scale(0.258869)">


<!-- box 43 -->
<path class="o w" d="M62,118 L75,110 L128,115 L148,135 L145,160 L90,158 L62,137 Z"/>
<path class="o" d="M62,118 L90,135 L148,135 M90,135 L90,158"/>
<!-- handle 44 -->
<path class="o w" d="M362,58 L560,48 L800,65 L910,86 C945,104 970,150 978,193 L958,220 L928,237 L908,216 L870,200 L600,200 L580,180 L560,198 C540,240 520,280 480,320 L460,330 L380,336 L360,330 L358,316 L384,308 C400,200 375,120 362,58 Z"/>
<path class="b" d="M362,58 C375,120 400,200 384,308 L358,316 L360,330 L380,336" style="stroke-width:2"/>
<path class="b" d="M362,58 L560,48 L800,65 L910,85"/>
<path class="o" d="M372,76 C386,130 410,210 393,310 M380,320 L450,316 M384,308 L378,334"/>
<path class="b" d="M560,48 C575,80 590,110 620,118 L870,128 C895,125 905,112 905,96"/>
<path class="o" d="M785,126 L785,106 L860,106 L862,128 M948,129 L968,200 M955,136 L959,208 L968,200 M903,88 C922,98 920,118 900,130"/>
<path class="b" d="M412,142 L490,134 C510,140 516,160 511,182 C506,232 496,282 470,302 L416,306" style="stroke-width:2"/>
<path class="o" d="M425,140 C408,145 408,166 425,166 L455,166 C470,200 460,260 445,290 L416,300"/>
<ellipse class="o" cx="440" cy="98" rx="17" ry="22" transform="rotate(-15 440 98)"/>
<path class="o" d="M445,80 C455,90 455,105 448,116"/>
<path class="o" d="M530,160 L850,184 M580,180 L600,170 L660,172"/>
<path d="M600,200 L880,201" stroke="#0c0c0c" stroke-width="2.2" stroke-dasharray="1.500 1"/>
<path class="o" d="M480,320 C520,285 545,240 565,200"/>
<!-- center line -->
<path class="t" d="M175,127 L420,108 M520,100 L580,95 M640,92 L930,70 M990,65 L1060,59"/>

</g>
<g transform="translate(740,700) scale(0.249281)">
<!-- 45 sleeve -->
<path class="w" d="M122,150 L314,146 L340,196 L298,199 L163,219 Z" stroke="#0c0c0c" stroke-width="2.4"/>
<path d="M133,158 L163,206" stroke="#0c0c0c" stroke-width="2"/>
<path class="k" d="M169,190 L286,175 L290,193 L188,211 Z" stroke="#0c0c0c" stroke-width="1.5"/>
<path d="M286,176 L330,172 M290,193 L336,188 M280,161 L318,160" stroke="#0c0c0c" stroke-width="2"/>
<g stroke="#111" stroke-width=".8"><circle class="k" cx="174" cy="166" r="6"/><circle class="k" cx="208" cy="164.500" r="6"/><circle class="k" cx="242" cy="163" r="6"/><circle class="k" cx="274" cy="160.500" r="6"/></g>
<path d="M160,152 L162,160 M195,151 L197,158 M228,150 L230,157 M262,149 L264,155" stroke="#0c0c0c" stroke-width="2.4"/>
<g stroke="#888" stroke-width=".7"><path d="M200,198 L202,204 M225,194 L227,200 M250,190 L252,196 M272,186 L274,192"/></g>
<path class="o w" d="M108,195 L150,192 L150,218 L110,215 Z"/>
<g transform="rotate(-6 88 190)"><rect class="b w" x="73" y="150" width="34" height="84" rx="10"/><rect class="o" x="77" y="156" width="20" height="72" rx="8"/><ellipse class="o" cx="86" cy="190" rx="4" ry="9"/></g>
<path class="t" d="M20,198 L75,195 M385,170 L445,167"/>
<!-- 46 cable -->
<path class="o w" d="M490,155 L705,124 L710,148 L495,181 Z"/>
<path class="o" d="M492,168 L706,137"/>
<!-- cone -->
<path class="o w" d="M770,104 L839,62 L846,164 L780,149 Z"/>
<path class="o" d="M784,107 L836,75 M780,149 L846,164 M784,142 L838,155"/>
<path class="b k" d="M794,111 L830,109 L832,138 L797,142 Z"/>
<!-- sleeve -->
<path class="o w" d="M708,114 L770,105.500 L777,149 L713,154 C706,145 704,124 708,114 Z"/>
<path class="k" stroke="#0c0c0c" stroke-width="1" d="M730,111 L768,106 L772,148 L734,152 Z"/>
<path d="M739,111 L742,150 M748,110 L751,149 M757,109 L760,148" stroke="#777" stroke-width=".6"/>
<path class="o w" d="M769,106 L783,108 L786,146 L775,149 Z"/>
<!-- prongs -->
<path class="o w" d="M877,69 L936,60.500 C944,62 946,76 939,80 L879,87 Z"/>
<path class="o w" d="M891,133 L950,121 C958,123 960,137 953,140.500 L893,149 Z"/>
<ellipse class="o k" cx="938" cy="70" rx="3" ry="8"/><ellipse class="o k" cx="952" cy="131" rx="3" ry="8"/>
<!-- head -->
<path class="b w" d="M839,52 L881,47 L891,57 L893,72 L880,76 L882,90 L896,88 L905,104 L907,130 L893,134 L895,150 L905,146 L900,166 L867,175 L850,166 L836,131 L834,69 Z"/>
<path class="o" d="M839,52 L852,64 L881,47 M852,64 C848,100 852,140 867,175 M866,60 C862,100 866,140 880,170"/>
<path class="o" d="M836,120 L880,112 M838,130 L878,122"/>

</g>
<g transform="translate(690,670) scale(0.076702)">
<path class="t" d="M235,160 L300,225"/>
<path class="c2" d="M360,455 L405,495"/>
<!-- screws 41 -->
<g id="s41"><path d="M340,240 L402,302" stroke="#0c0c0c" stroke-width="4.200"/><path d="M352,254 L392,294" stroke="#fff" stroke-width="1.500"/><circle class="b w" cx="340" cy="240" r="28" style="stroke-width:2.600"/></g>
<use href="#s41" x="-66" y="120"/>
<!-- clamp 42 -->
<g transform="rotate(-7 478 490)"><rect class="b w" x="420" y="330" width="116" height="318" rx="58" style="stroke-width:2"/>
<circle class="o" cx="478" cy="392" r="30"/><circle class="o g" cx="478" cy="392" r="13"/>
<circle class="o" cx="478" cy="592" r="30"/><circle class="o g" cx="478" cy="592" r="13"/>
<path class="b" d="M422,450 C450,464 510,464 534,450 M422,535 C450,549 510,549 534,535" style="stroke-width:1.800"/>
<rect class="o" x="440" y="470" width="78" height="48"/></g>

</g>
<g transform="translate(680,620) scale(0.348035)">






</g>
<g transform="translate(0,140) scale(0.249281)">
<path class="d" transform="translate(72.0,110.0) scale(4.000,3.800)" d="M1,1.8 L2.8,0 L2.8,10 M1.3,10 L4.3,10"/>
<path class="d" transform="translate(98.0,110.0) scale(4.000,3.800)" d="M0,0 L5,0 L2,10"/>
<path class="l" d="M45,157 L150,157"/>
<path class="l" d="M150,157 L478,215"/>
<path class="d" transform="translate(72.0,230.0) scale(4.000,3.800)" d="M1,1.8 L2.8,0 L2.8,10 M1.3,10 L4.3,10"/>
<path class="d" transform="translate(98.0,230.0) scale(4.000,3.800)" d="M4.5,1.2 C4,0.4 3.4,0 2.7,0 C1,0 0.2,2 0.2,5.5 C0.2,8.5 1,10 2.6,10 C4,10 4.9,8.8 4.9,7 C4.9,5.2 4,4 2.6,4 C1.3,4 0.3,5 0.2,6.5"/>
<path class="l" d="M45,275 L150,275"/>
<path class="l" d="M150,275 L520,398"/>
<path class="d" transform="translate(72.0,358.0) scale(4.000,3.800)" d="M1,1.8 L2.8,0 L2.8,10 M1.3,10 L4.3,10"/>
<path class="d" transform="translate(98.0,358.0) scale(4.000,3.800)" d="M4.5,0 L0.8,0 L0.5,4.3 C1.2,3.7 1.8,3.5 2.6,3.5 C4,3.5 4.9,4.8 4.9,6.7 C4.9,8.7 3.9,10 2.5,10 C1.4,10 0.5,9.3 0.1,8"/>
<path class="l" d="M45,404 L150,404"/>
<path class="l" d="M150,404 L505,455"/>
<path class="d" transform="translate(72.0,497.0) scale(4.000,3.800)" d="M1,1.8 L2.8,0 L2.8,10 M1.3,10 L4.3,10"/>
<path class="d" transform="translate(98.0,497.0) scale(4.000,3.800)" d="M3.8,10 L3.8,0 L0,7 L5,7"/>
<path class="l" d="M45,543 L150,543"/>
<path class="l" d="M150,543 L298,638"/>
<path class="d" transform="translate(72.0,812.0) scale(4.000,3.800)" d="M1,1.8 L2.8,0 L2.8,10 M1.3,10 L4.3,10"/>
<path class="d" transform="translate(98.0,812.0) scale(4.000,3.800)" d="M0.3,1.8 C0.8,0.5 1.6,0 2.5,0 C3.8,0 4.6,1 4.6,2.4 C4.6,3.8 3.6,4.6 2.2,4.6 C3.8,4.6 4.9,5.6 4.9,7.3 C4.9,9 3.8,10 2.5,10 C1.4,10 0.5,9.4 0.1,8"/>
<path class="l" d="M45,857 L150,857"/>
<path class="l" d="M150,857 L500,930"/>
<path class="d" transform="translate(72.0,940.0) scale(4.000,3.800)" d="M1,1.8 L2.8,0 L2.8,10 M1.3,10 L4.3,10"/>
<path class="d" transform="translate(98.0,940.0) scale(4.000,3.800)" d="M0.3,2.6 C0.3,0.9 1.2,0 2.5,0 C3.8,0 4.7,0.9 4.7,2.5 C4.7,4.8 0.8,5.6 0.2,10 L5,10"/>
<path class="l" d="M45,987 L150,987"/>
<path class="l" d="M150,987 L415,1097"/>
<path class="d" transform="translate(875.0,387.0) scale(3.913,3.800)" d="M1,1.8 L2.8,0 L2.8,10 M1.3,10 L4.3,10"/>
<path class="d" transform="translate(900.4,387.0) scale(3.913,3.800)" d="M2.5,4.6 C1.2,4.6 0.5,3.6 0.5,2.4 C0.5,1 1.3,0 2.5,0 C3.7,0 4.5,1 4.5,2.4 C4.5,3.6 3.8,4.6 2.5,4.6 C1,4.6 0.1,5.7 0.1,7.3 C0.1,9 1.1,10 2.5,10 C3.9,10 4.9,9 4.9,7.3 C4.9,5.7 4,4.6 2.5,4.6Z"/>
<path class="l" d="M850,432 L950,432"/>
<path class="l" d="M850,432 L795,570"/>
<path class="d" transform="translate(988.0,380.0) scale(4.087,3.800)" d="M1,1.8 L2.8,0 L2.8,10 M1.3,10 L4.3,10"/>
<path class="d" transform="translate(1014.6,380.0) scale(4.087,3.800)" d="M0.5,8.8 C1,9.6 1.6,10 2.3,10 C4,10 4.8,8 4.8,4.5 C4.8,1.5 4,0 2.4,0 C1,0 0.1,1.2 0.1,3 C0.1,4.8 1,6 2.4,6 C3.7,6 4.7,5 4.8,3.5"/>
<path class="l" d="M960,427 L1043,427"/>
<path class="l" d="M960,427 L905,650"/>
</g>
<g transform="translate(260,140) scale(0.249281)">
<path class="d" transform="translate(83.0,368.0) scale(4.348,3.700)" d="M0.3,2.6 C0.3,0.9 1.2,0 2.5,0 C3.8,0 4.7,0.9 4.7,2.5 C4.7,4.8 0.8,5.6 0.2,10 L5,10"/>
<path class="d" transform="translate(111.3,368.0) scale(4.348,3.700)" d="M2.5,0 C0.6,0 0,2 0,5 C0,8 0.6,10 2.5,10 C4.4,10 5,8 5,5 C5,2 4.4,0 2.5,0Z"/>
<path class="l" d="M58,413 L165,413"/>
<path class="l" d="M58,413 L-26,634"/>
<path class="d" transform="translate(222.0,358.0) scale(4.174,3.900)" d="M0.3,2.6 C0.3,0.9 1.2,0 2.5,0 C3.8,0 4.7,0.9 4.7,2.5 C4.7,4.8 0.8,5.6 0.2,10 L5,10"/>
<path class="d" transform="translate(249.1,358.0) scale(4.174,3.900)" d="M1,1.8 L2.8,0 L2.8,10 M1.3,10 L4.3,10"/>
<path class="l" d="M190,405 L300,405"/>
<path class="l" d="M190,405 L130,625"/>
<path class="d" transform="translate(380.0,347.0) scale(4.783,3.900)" d="M0.3,2.6 C0.3,0.9 1.2,0 2.5,0 C3.8,0 4.7,0.9 4.7,2.5 C4.7,4.8 0.8,5.6 0.2,10 L5,10"/>
<path class="d" transform="translate(411.1,347.0) scale(4.783,3.900)" d="M0.3,2.6 C0.3,0.9 1.2,0 2.5,0 C3.8,0 4.7,0.9 4.7,2.5 C4.7,4.8 0.8,5.6 0.2,10 L5,10"/>
<path class="l" d="M358,394 L463,394"/>
<path class="l" d="M358,394 L255,610"/>
<path class="d" transform="translate(545.0,335.0) scale(4.957,3.800)" d="M0.3,2.6 C0.3,0.9 1.2,0 2.5,0 C3.8,0 4.7,0.9 4.7,2.5 C4.7,4.8 0.8,5.6 0.2,10 L5,10"/>
<path class="d" transform="translate(577.2,335.0) scale(4.957,3.800)" d="M0.3,1.8 C0.8,0.5 1.6,0 2.5,0 C3.8,0 4.6,1 4.6,2.4 C4.6,3.8 3.6,4.6 2.2,4.6 C3.8,4.6 4.9,5.6 4.9,7.3 C4.9,9 3.8,10 2.5,10 C1.4,10 0.5,9.4 0.1,8"/>
<path class="l" d="M522,381 L630,381"/>
<path class="l" d="M522,381 L425,590"/>
<path class="d" transform="translate(970.0,305.0) scale(4.783,3.800)" d="M0.3,2.6 C0.3,0.9 1.2,0 2.5,0 C3.8,0 4.7,0.9 4.7,2.5 C4.7,4.8 0.8,5.6 0.2,10 L5,10"/>
<path class="d" transform="translate(1001.1,305.0) scale(4.783,3.800)" d="M3.8,10 L3.8,0 L0,7 L5,7"/>
<path class="l" d="M945,351 L1050,351"/>
<path class="l" d="M945,351 L893,545"/>
<path class="d" transform="translate(305.0,960.0) scale(4.609,3.800)" d="M0.3,1.8 C0.8,0.5 1.6,0 2.5,0 C3.8,0 4.6,1 4.6,2.4 C4.6,3.8 3.6,4.6 2.2,4.6 C3.8,4.6 4.9,5.6 4.9,7.3 C4.9,9 3.8,10 2.5,10 C1.4,10 0.5,9.4 0.1,8"/>
<path class="d" transform="translate(335.0,960.0) scale(4.609,3.800)" d="M2.5,0 C0.6,0 0,2 0,5 C0,8 0.6,10 2.5,10 C4.4,10 5,8 5,5 C5,2 4.4,0 2.5,0Z"/>
<path class="l" d="M282,1005 L385,1005"/>
<path class="l" d="M385,1005 L534,1352"/>
<path class="d" transform="translate(630.0,930.0) scale(3.913,3.800)" d="M0.3,1.8 C0.8,0.5 1.6,0 2.5,0 C3.8,0 4.6,1 4.6,2.4 C4.6,3.8 3.6,4.6 2.2,4.6 C3.8,4.6 4.9,5.6 4.9,7.3 C4.9,9 3.8,10 2.5,10 C1.4,10 0.5,9.4 0.1,8"/>
<path class="d" transform="translate(655.4,930.0) scale(3.913,3.800)" d="M1,1.8 L2.8,0 L2.8,10 M1.3,10 L4.3,10"/>
<path class="l" d="M605,976 L710,976"/>
<path class="l" d="M710,976 L1007,1237"/>
<path class="d" transform="translate(840.0,912.0) scale(4.609,3.800)" d="M0.3,1.8 C0.8,0.5 1.6,0 2.5,0 C3.8,0 4.6,1 4.6,2.4 C4.6,3.8 3.6,4.6 2.2,4.6 C3.8,4.6 4.9,5.6 4.9,7.3 C4.9,9 3.8,10 2.5,10 C1.4,10 0.5,9.4 0.1,8"/>
<path class="d" transform="translate(870.0,912.0) scale(4.609,3.800)" d="M0.3,2.6 C0.3,0.9 1.2,0 2.5,0 C3.8,0 4.7,0.9 4.7,2.5 C4.7,4.8 0.8,5.6 0.2,10 L5,10"/>
<path class="l" d="M818,958 L920,958"/>
<path class="l" d="M920,958 L1000,1012"/>
</g>
<g transform="translate(520,140) scale(0.249281)">
<path class="d" transform="translate(263.0,280.0) scale(4.783,3.800)" d="M0.3,2.6 C0.3,0.9 1.2,0 2.5,0 C3.8,0 4.7,0.9 4.7,2.5 C4.7,4.8 0.8,5.6 0.2,10 L5,10"/>
<path class="d" transform="translate(294.1,280.0) scale(4.783,3.800)" d="M4.5,0 L0.8,0 L0.5,4.3 C1.2,3.7 1.8,3.5 2.6,3.5 C4,3.5 4.9,4.8 4.9,6.7 C4.9,8.7 3.9,10 2.5,10 C1.4,10 0.5,9.3 0.1,8"/>
<path class="l" d="M240,327 L345,327"/>
<path class="l" d="M240,327 L200,520"/>
<path class="d" transform="translate(448.0,268.0) scale(4.783,3.700)" d="M0.3,2.6 C0.3,0.9 1.2,0 2.5,0 C3.8,0 4.7,0.9 4.7,2.5 C4.7,4.8 0.8,5.6 0.2,10 L5,10"/>
<path class="d" transform="translate(479.1,268.0) scale(4.783,3.700)" d="M4.5,1.2 C4,0.4 3.4,0 2.7,0 C1,0 0.2,2 0.2,5.5 C0.2,8.5 1,10 2.6,10 C4,10 4.9,8.8 4.9,7 C4.9,5.2 4,4 2.6,4 C1.3,4 0.3,5 0.2,6.5"/>
<path class="l" d="M428,314 L530,314"/>
<path class="l" d="M428,314 L335,505"/>
<path class="d" transform="translate(618.0,255.0) scale(4.783,3.800)" d="M0.3,2.6 C0.3,0.9 1.2,0 2.5,0 C3.8,0 4.7,0.9 4.7,2.5 C4.7,4.8 0.8,5.6 0.2,10 L5,10"/>
<path class="d" transform="translate(649.1,255.0) scale(4.783,3.800)" d="M0,0 L5,0 L2,10"/>
<path class="l" d="M597,301 L703,301"/>
<path class="l" d="M597,301 L460,500"/>
<path class="d" transform="translate(858.0,238.0) scale(4.783,3.900)" d="M0.3,2.6 C0.3,0.9 1.2,0 2.5,0 C3.8,0 4.7,0.9 4.7,2.5 C4.7,4.8 0.8,5.6 0.2,10 L5,10"/>
<path class="d" transform="translate(889.1,238.0) scale(4.783,3.900)" d="M2.5,4.6 C1.2,4.6 0.5,3.6 0.5,2.4 C0.5,1 1.3,0 2.5,0 C3.7,0 4.5,1 4.5,2.4 C4.5,3.6 3.8,4.6 2.5,4.6 C1,4.6 0.1,5.7 0.1,7.3 C0.1,9 1.1,10 2.5,10 C3.9,10 4.9,9 4.9,7.3 C4.9,5.7 4,4.6 2.5,4.6Z"/>
<path class="l" d="M833,286 L940,286"/>
<path class="l" d="M833,286 L745,412"/>
<path class="d" transform="translate(192.0,885.0) scale(4.609,3.700)" d="M0.3,1.8 C0.8,0.5 1.6,0 2.5,0 C3.8,0 4.6,1 4.6,2.4 C4.6,3.8 3.6,4.6 2.2,4.6 C3.8,4.6 4.9,5.6 4.9,7.3 C4.9,9 3.8,10 2.5,10 C1.4,10 0.5,9.4 0.1,8"/>
<path class="d" transform="translate(222.0,885.0) scale(4.609,3.700)" d="M0.3,1.8 C0.8,0.5 1.6,0 2.5,0 C3.8,0 4.6,1 4.6,2.4 C4.6,3.8 3.6,4.6 2.2,4.6 C3.8,4.6 4.9,5.6 4.9,7.3 C4.9,9 3.8,10 2.5,10 C1.4,10 0.5,9.4 0.1,8"/>
<path class="l" d="M168,930 L273,930"/>
<path class="l" d="M168,930 L129,1082"/>
<path class="d" transform="translate(333.0,872.0) scale(4.696,3.800)" d="M0.3,1.8 C0.8,0.5 1.6,0 2.5,0 C3.8,0 4.6,1 4.6,2.4 C4.6,3.8 3.6,4.6 2.2,4.6 C3.8,4.6 4.9,5.6 4.9,7.3 C4.9,9 3.8,10 2.5,10 C1.4,10 0.5,9.4 0.1,8"/>
<path class="d" transform="translate(363.5,872.0) scale(4.696,3.800)" d="M3.8,10 L3.8,0 L0,7 L5,7"/>
<path class="l" d="M308,918 L415,918"/>
<path class="l" d="M308,918 L199,1162"/>
<path class="d" transform="translate(562.0,850.0) scale(4.609,3.800)" d="M0.3,1.8 C0.8,0.5 1.6,0 2.5,0 C3.8,0 4.6,1 4.6,2.4 C4.6,3.8 3.6,4.6 2.2,4.6 C3.8,4.6 4.9,5.6 4.9,7.3 C4.9,9 3.8,10 2.5,10 C1.4,10 0.5,9.4 0.1,8"/>
<path class="d" transform="translate(592.0,850.0) scale(4.609,3.800)" d="M4.5,0 L0.8,0 L0.5,4.3 C1.2,3.7 1.8,3.5 2.6,3.5 C4,3.5 4.9,4.8 4.9,6.7 C4.9,8.7 3.9,10 2.5,10 C1.4,10 0.5,9.3 0.1,8"/>
<path class="l" d="M538,897 L643,897"/>
<path class="l" d="M538,897 L284,1122"/>
<path class="d" transform="translate(783.0,832.0) scale(4.783,3.800)" d="M0.3,1.8 C0.8,0.5 1.6,0 2.5,0 C3.8,0 4.6,1 4.6,2.4 C4.6,3.8 3.6,4.6 2.2,4.6 C3.8,4.6 4.9,5.6 4.9,7.3 C4.9,9 3.8,10 2.5,10 C1.4,10 0.5,9.4 0.1,8"/>
<path class="d" transform="translate(814.1,832.0) scale(4.783,3.800)" d="M4.5,1.2 C4,0.4 3.4,0 2.7,0 C1,0 0.2,2 0.2,5.5 C0.2,8.5 1,10 2.6,10 C4,10 4.9,8.8 4.9,7 C4.9,5.2 4,4 2.6,4 C1.3,4 0.3,5 0.2,6.5"/>
<path class="l" d="M762,878 L865,878"/>
<path class="l" d="M762,878 L464,1267"/>
</g>
<g transform="translate(780,100) scale(0.252157)">
<path class="d" transform="translate(465.0,372.0) scale(3.739,3.800)" d="M4.5,0 L0.8,0 L0.5,4.3 C1.2,3.7 1.8,3.5 2.6,3.5 C4,3.5 4.9,4.8 4.9,6.7 C4.9,8.7 3.9,10 2.5,10 C1.4,10 0.5,9.3 0.1,8"/>
<path class="d" transform="translate(489.3,372.0) scale(3.739,3.800)" d="M1,1.8 L2.8,0 L2.8,10 M1.3,10 L4.3,10"/>
<path class="l" d="M437,420 L540,420"/>
<path class="l" d="M540,420 L705,253"/>
</g>
<g transform="translate(0,360) scale(0.249281)">
<path class="d" transform="translate(78.0,175.0) scale(3.217,3.800)" d="M1,1.8 L2.8,0 L2.8,10 M1.3,10 L4.3,10"/>
<path class="d" transform="translate(98.9,175.0) scale(3.217,3.800)" d="M1,1.8 L2.8,0 L2.8,10 M1.3,10 L4.3,10"/>
<path class="l" d="M45,222 L150,222"/>
<path class="l" d="M150,222 L425,345"/>
<path class="d" transform="translate(75.0,332.0) scale(3.913,3.800)" d="M1,1.8 L2.8,0 L2.8,10 M1.3,10 L4.3,10"/>
<path class="d" transform="translate(100.4,332.0) scale(3.913,3.800)" d="M2.5,0 C0.6,0 0,2 0,5 C0,8 0.6,10 2.5,10 C4.4,10 5,8 5,5 C5,2 4.4,0 2.5,0Z"/>
<path class="l" d="M45,378 L150,378"/>
<path class="l" d="M150,378 L500,515"/>
<path class="d" transform="translate(83.0,428.0) scale(5.400,4.000)" d="M0.5,8.8 C1,9.6 1.6,10 2.3,10 C4,10 4.8,8 4.8,4.5 C4.8,1.5 4,0 2.4,0 C1,0 0.1,1.2 0.1,3 C0.1,4.8 1,6 2.4,6 C3.7,6 4.7,5 4.8,3.5"/>
<path class="l" d="M45,477 L150,477"/>
<path class="l" d="M150,477 L465,598"/>
<path class="d" transform="translate(83.0,658.0) scale(5.400,3.900)" d="M2.5,4.6 C1.2,4.6 0.5,3.6 0.5,2.4 C0.5,1 1.3,0 2.5,0 C3.7,0 4.5,1 4.5,2.4 C4.5,3.6 3.8,4.6 2.5,4.6 C1,4.6 0.1,5.7 0.1,7.3 C0.1,9 1.1,10 2.5,10 C3.9,10 4.9,9 4.9,7.3 C4.9,5.7 4,4.6 2.5,4.6Z"/>
<path class="l" d="M45,706 L150,706"/>
<path class="l" d="M150,706 L450,810"/>
<path class="d" transform="translate(83.0,775.0) scale(5.400,3.800)" d="M0,0 L5,0 L2,10"/>
<path class="l" d="M45,825 L150,825"/>
<path class="l" d="M150,825 L470,955"/>
<path class="d" transform="translate(83.0,918.0) scale(5.400,3.900)" d="M4.5,1.2 C4,0.4 3.4,0 2.7,0 C1,0 0.2,2 0.2,5.5 C0.2,8.5 1,10 2.6,10 C4,10 4.9,8.8 4.9,7 C4.9,5.2 4,4 2.6,4 C1.3,4 0.3,5 0.2,6.5"/>
<path class="l" d="M45,966 L150,966"/>
<path class="l" d="M150,966 L380,1067"/>
<path class="d" transform="translate(940.0,112.0) scale(4.783,3.800)" d="M0.3,2.6 C0.3,0.9 1.2,0 2.5,0 C3.8,0 4.7,0.9 4.7,2.5 C4.7,4.8 0.8,5.6 0.2,10 L5,10"/>
<path class="d" transform="translate(971.1,112.0) scale(4.783,3.800)" d="M0.5,8.8 C1,9.6 1.6,10 2.3,10 C4,10 4.8,8 4.8,4.5 C4.8,1.5 4,0 2.4,0 C1,0 0.1,1.2 0.1,3 C0.1,4.8 1,6 2.4,6 C3.7,6 4.7,5 4.8,3.5"/>
<path class="l" d="M918,158 L1025,158"/>
<path class="l" d="M1025,158 L1132,555"/>
</g>
<g transform="translate(0,590) scale(0.249281)">
<path class="d" transform="translate(83.0,187.0) scale(5.400,4.000)" d="M4.5,0 L0.8,0 L0.5,4.3 C1.2,3.7 1.8,3.5 2.6,3.5 C4,3.5 4.9,4.8 4.9,6.7 C4.9,8.7 3.9,10 2.5,10 C1.4,10 0.5,9.3 0.1,8"/>
<path class="l" d="M45,236 L150,236"/>
<path class="l" d="M150,236 L385,335"/>
<path class="d" transform="translate(83.0,362.0) scale(5.400,3.600)" d="M3.8,10 L3.8,0 L0,7 L5,7"/>
<path class="l" d="M45,407 L150,407"/>
<path class="l" d="M150,407 L510,535"/>
<path class="d" transform="translate(83.0,522.0) scale(5.400,3.800)" d="M0.3,1.8 C0.8,0.5 1.6,0 2.5,0 C3.8,0 4.6,1 4.6,2.4 C4.6,3.8 3.6,4.6 2.2,4.6 C3.8,4.6 4.9,5.6 4.9,7.3 C4.9,9 3.8,10 2.5,10 C1.4,10 0.5,9.4 0.1,8"/>
<path class="l" d="M45,570 L150,570"/>
<path class="l" d="M150,570 L490,690"/>
<path class="d" transform="translate(83.0,665.0) scale(5.400,4.000)" d="M0.3,2.6 C0.3,0.9 1.2,0 2.5,0 C3.8,0 4.7,0.9 4.7,2.5 C4.7,4.8 0.8,5.6 0.2,10 L5,10"/>
<path class="l" d="M45,714 L150,714"/>
<path class="l" d="M150,714 L362,848"/>
<path class="d" transform="translate(85.0,958.0) scale(4.600,3.800)" d="M1,1.8 L2.8,0 L2.8,10 M1.3,10 L4.3,10"/>
<path class="l" d="M45,1005 L150,1005"/>
<path class="l" d="M150,1005 L470,1154"/>
</g>
<g transform="translate(230,815) scale(0.191755)">
<path class="d" transform="translate(208.0,50.0) scale(5.565,4.800)" d="M3.8,10 L3.8,0 L0,7 L5,7"/>
<path class="d" transform="translate(244.2,50.0) scale(5.565,4.800)" d="M0,0 L5,0 L2,10"/>
<path class="l" d="M175,113 L312,113"/>
<path class="l" d="M175,113 L108,295"/>
<path class="d" transform="translate(392.0,50.0) scale(6.087,4.800)" d="M3.8,10 L3.8,0 L0,7 L5,7"/>
<path class="d" transform="translate(431.6,50.0) scale(6.087,4.800)" d="M2.5,4.6 C1.2,4.6 0.5,3.6 0.5,2.4 C0.5,1 1.3,0 2.5,0 C3.7,0 4.5,1 4.5,2.4 C4.5,3.6 3.8,4.6 2.5,4.6 C1,4.6 0.1,5.7 0.1,7.3 C0.1,9 1.1,10 2.5,10 C3.9,10 4.9,9 4.9,7.3 C4.9,5.7 4,4.6 2.5,4.6Z"/>
<path class="l" d="M360,113 L497,113"/>
<path class="l" d="M360,113 L305,290"/>
<path class="d" transform="translate(628.0,50.0) scale(5.826,4.800)" d="M3.8,10 L3.8,0 L0,7 L5,7"/>
<path class="d" transform="translate(665.9,50.0) scale(5.826,4.800)" d="M0.5,8.8 C1,9.6 1.6,10 2.3,10 C4,10 4.8,8 4.8,4.5 C4.8,1.5 4,0 2.4,0 C1,0 0.1,1.2 0.1,3 C0.1,4.8 1,6 2.4,6 C3.7,6 4.7,5 4.8,3.5"/>
<path class="l" d="M595,113 L732,113"/>
<path class="l" d="M595,113 L535,300"/>
<path class="d" transform="translate(882.0,50.0) scale(5.739,4.800)" d="M4.5,0 L0.8,0 L0.5,4.3 C1.2,3.7 1.8,3.5 2.6,3.5 C4,3.5 4.9,4.8 4.9,6.7 C4.9,8.7 3.9,10 2.5,10 C1.4,10 0.5,9.3 0.1,8"/>
<path class="d" transform="translate(919.3,50.0) scale(5.739,4.800)" d="M2.5,0 C0.6,0 0,2 0,5 C0,8 0.6,10 2.5,10 C4.4,10 5,8 5,5 C5,2 4.4,0 2.5,0Z"/>
<path class="l" d="M848,113 L985,113"/>
<path class="l" d="M848,113 L795,360"/>
</g>
<g transform="translate(600,300) scale(0.424736)">
<path class="d" transform="translate(612.0,78.0) scale(2.870,2.500)" d="M0.3,1.8 C0.8,0.5 1.6,0 2.5,0 C3.8,0 4.6,1 4.6,2.4 C4.6,3.8 3.6,4.6 2.2,4.6 C3.8,4.6 4.9,5.6 4.9,7.3 C4.9,9 3.8,10 2.5,10 C1.4,10 0.5,9.4 0.1,8"/>
<path class="d" transform="translate(630.7,78.0) scale(2.870,2.500)" d="M0,0 L5,0 L2,10"/>
<path class="l" d="M598,107 L660,107"/>
<path class="l" d="M598,107 L483,420"/>
</g>
<g transform="translate(280,570) scale(0.479386)">
<path class="d" transform="translate(427.0,45.0) scale(2.870,2.300)" d="M0.3,1.8 C0.8,0.5 1.6,0 2.5,0 C3.8,0 4.6,1 4.6,2.4 C4.6,3.8 3.6,4.6 2.2,4.6 C3.8,4.6 4.9,5.6 4.9,7.3 C4.9,9 3.8,10 2.5,10 C1.4,10 0.5,9.4 0.1,8"/>
<path class="d" transform="translate(445.7,45.0) scale(2.870,2.300)" d="M2.5,4.6 C1.2,4.6 0.5,3.6 0.5,2.4 C0.5,1 1.3,0 2.5,0 C3.7,0 4.5,1 4.5,2.4 C4.5,3.6 3.8,4.6 2.5,4.6 C1,4.6 0.1,5.7 0.1,7.3 C0.1,9 1.1,10 2.5,10 C3.9,10 4.9,9 4.9,7.3 C4.9,5.7 4,4.6 2.5,4.6Z"/>
<path class="l" d="M415,72 L470,72"/>
<path class="l" d="M415,72 L378,168"/>
<path class="d" transform="translate(558.0,35.0) scale(2.783,2.200)" d="M0.3,1.8 C0.8,0.5 1.6,0 2.5,0 C3.8,0 4.6,1 4.6,2.4 C4.6,3.8 3.6,4.6 2.2,4.6 C3.8,4.6 4.9,5.6 4.9,7.3 C4.9,9 3.8,10 2.5,10 C1.4,10 0.5,9.4 0.1,8"/>
<path class="d" transform="translate(576.1,35.0) scale(2.783,2.200)" d="M0.5,8.8 C1,9.6 1.6,10 2.3,10 C4,10 4.8,8 4.8,4.5 C4.8,1.5 4,0 2.4,0 C1,0 0.1,1.2 0.1,3 C0.1,4.8 1,6 2.4,6 C3.7,6 4.7,5 4.8,3.5"/>
<path class="l" d="M546,61 L602,61"/>
<path class="l" d="M546,61 L527,215"/>
</g>
<g transform="translate(460,735) scale(0.258869)">
<path class="d" transform="translate(238.0,295.0) scale(4.522,3.800)" d="M3.8,10 L3.8,0 L0,7 L5,7"/>
<path class="d" transform="translate(267.4,295.0) scale(4.522,3.800)" d="M0.3,1.8 C0.8,0.5 1.6,0 2.5,0 C3.8,0 4.6,1 4.6,2.4 C4.6,3.8 3.6,4.6 2.2,4.6 C3.8,4.6 4.9,5.6 4.9,7.3 C4.9,9 3.8,10 2.5,10 C1.4,10 0.5,9.4 0.1,8"/>
<path class="l" d="M210,343 L315,343"/>
<path class="l" d="M210,343 L118,165"/>
<path class="d" transform="translate(760.0,258.0) scale(4.348,3.700)" d="M3.8,10 L3.8,0 L0,7 L5,7"/>
<path class="d" transform="translate(788.3,258.0) scale(4.348,3.700)" d="M3.8,10 L3.8,0 L0,7 L5,7"/>
<path class="l" d="M735,302 L840,302"/>
<path class="l" d="M735,302 L660,175"/>
</g>
<g transform="translate(680,620) scale(0.348035)">
<path class="d" transform="translate(22.0,85.0) scale(3.043,2.800)" d="M3.8,10 L3.8,0 L0,7 L5,7"/>
<path class="d" transform="translate(41.8,85.0) scale(3.043,2.800)" d="M2.5,0 C0.6,0 0,2 0,5 C0,8 0.6,10 2.5,10 C4.4,10 5,8 5,5 C5,2 4.4,0 2.5,0Z"/>
<path class="l" d="M0,122 L78,122"/>
<path class="l" d="M78,122 L185,-5"/>
<path class="d" transform="translate(190.0,85.0) scale(2.783,2.800)" d="M3.8,10 L3.8,0 L0,7 L5,7"/>
<path class="d" transform="translate(208.1,85.0) scale(2.783,2.800)" d="M1,1.8 L2.8,0 L2.8,10 M1.3,10 L4.3,10"/>
<path class="l" d="M170,120 L245,120"/>
<path class="l" d="M170,120 L108,200"/>
<path class="d" transform="translate(358.0,85.0) scale(3.217,2.800)" d="M3.8,10 L3.8,0 L0,7 L5,7"/>
<path class="d" transform="translate(378.9,85.0) scale(3.217,2.800)" d="M0.3,2.6 C0.3,0.9 1.2,0 2.5,0 C3.8,0 4.7,0.9 4.7,2.5 C4.7,4.8 0.8,5.6 0.2,10 L5,10"/>
<path class="l" d="M338,121 L415,121"/>
<path class="l" d="M338,121 L150,270"/>
<path class="d" transform="translate(448.0,483.0) scale(3.652,2.700)" d="M3.8,10 L3.8,0 L0,7 L5,7"/>
<path class="d" transform="translate(471.7,483.0) scale(3.652,2.700)" d="M4.5,0 L0.8,0 L0.5,4.3 C1.2,3.7 1.8,3.5 2.6,3.5 C4,3.5 4.9,4.8 4.9,6.7 C4.9,8.7 3.9,10 2.5,10 C1.4,10 0.5,9.3 0.1,8"/>
<path class="l" d="M430,518 L508,518"/>
<path class="l" d="M430,518 L318,385"/>
<path class="d" transform="translate(862.0,453.0) scale(3.478,2.700)" d="M3.8,10 L3.8,0 L0,7 L5,7"/>
<path class="d" transform="translate(884.6,453.0) scale(3.478,2.700)" d="M4.5,1.2 C4,0.4 3.4,0 2.7,0 C1,0 0.2,2 0.2,5.5 C0.2,8.5 1,10 2.6,10 C4,10 4.9,8.8 4.9,7 C4.9,5.2 4,4 2.6,4 C1.3,4 0.3,5 0.2,6.5"/>
<path class="l" d="M845,488 L922,488"/>
<path class="l" d="M845,488 L772,350"/>
</g>
</svg>
</body></html>
